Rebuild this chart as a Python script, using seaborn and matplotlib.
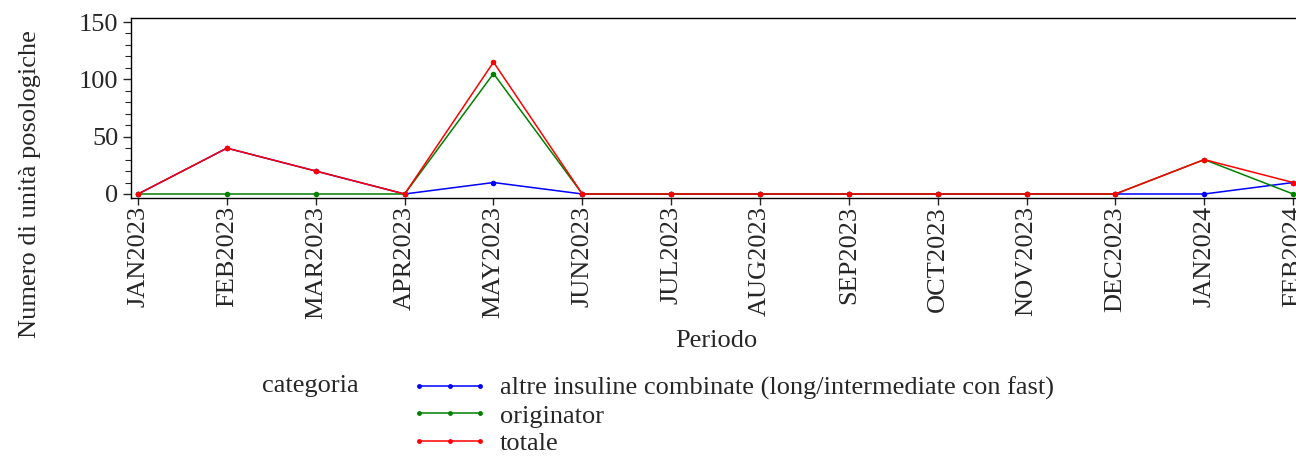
import numpy as np
import pandas as pd
import matplotlib
matplotlib.use('AGG')
from matplotlib import pyplot as plt
from matplotlib.ticker import MultipleLocator
import seaborn as sns

# Data
periodi = ['JAN2023', 'FEB2023', 'MAR2023', 'APR2023', 'MAY2023', 'JUN2023', 'JUL2023',
           'AUG2023', 'SEP2023', 'OCT2023', 'NOV2023', 'DEC2023', 'JAN2024', 'FEB2024']
altre = [0, 40, 20, 0, 10, 0, 0, 0, 0, 0, 0, 0, 0, 10]
originator = [0, 0, 0, 0, 105, 0, 0, 0, 0, 0, 0, 0, 30, 0]
totale = [0, 40, 20, 0, 115, 0, 0, 0, 0, 0, 0, 0, 30, 10]
categorie = ['altre insuline combinate (long/intermediate con fast)', 'originator', 'totale']
colori = ['#0000ff', '#008000', '#ff0000']

df = pd.DataFrame({
    'Periodo': periodi * 3,
    'x': list(range(len(periodi))) * 3,
    'valore': altre + originator + totale,
    'categoria': [categorie[0]] * len(periodi) + [categorie[1]] * len(periodi) + [categorie[2]] * len(periodi),
})

sns.set_style('ticks')
plt.rcParams['font.family'] = ['Liberation Serif', 'DejaVu Serif']

fig = plt.figure(figsize=(12.96, 4.57), dpi=100)
ax = fig.add_axes([131 / 1296, 259 / 457, (1302 - 131) / 1296, 180 / 457])

sns.lineplot(data=df, x='x', y='valore', hue='categoria', palette=colori,
             hue_order=categorie, marker='o', markersize=4, markeredgewidth=0,
             linewidth=1.1, ax=ax, legend=False, sort=False)

ax.set_xlim(-0.08, 13.1)
ax.set_ylim(-3.5, 153.5)
ax.set_xticks(range(len(periodi)))
ax.set_xticklabels(periodi, rotation=90, fontsize=19)
ax.yaxis.set_major_locator(MultipleLocator(50))
ax.yaxis.set_minor_locator(MultipleLocator(10))
ax.tick_params(axis='y', which='major', labelsize=19, length=6, width=1, pad=3)
ax.tick_params(axis='y', which='minor', length=4, width=0.8)
ax.tick_params(axis='x', which='major', length=5, width=1, pad=1)
for s in ax.spines.values():
    s.set_linewidth(1.0)
    s.set_color('black')

ax.set_xlabel('Periodo', fontsize=19, labelpad=8)
ax.set_ylabel('')
fig.text(30 / 1296, 1 - 184 / 457, 'Numero di unità posologiche', rotation=90,
         fontsize=19, ha='center', va='center')

# Legend
handles = [plt.Line2D([0], [0], color=c, lw=1.1, marker='o', markersize=3.5,
                      markeredgewidth=0) for c in colori]
leg = fig.legend(handles, categorie, loc='upper left', bbox_to_anchor=(401 / 1296, 1 - 366 / 457),
                 frameon=False, fontsize=19, numpoints=3, handlelength=2.9,
                 handletextpad=0.45, labelspacing=0.14, borderaxespad=0)
fig.text(310 / 1296, 1 - 386 / 457, 'categoria', fontsize=19, ha='center', va='center')

plt.savefig('out.png', dpi=100)
